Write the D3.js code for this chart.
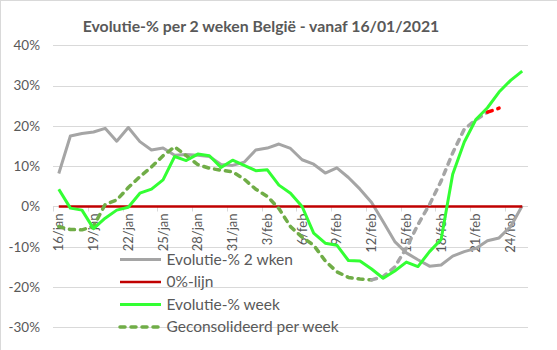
<!DOCTYPE html>
<html>
<head>
<meta charset="utf-8">
<script src="https://cdn.jsdelivr.net/npm/d3@7"></script>
<style>
  html, body { margin: 0; padding: 0; background: #fff; }
  svg { display: block; font-family: Lato, "Open Sans", sans-serif; }
</style>
</head>
<body>
<svg id="chart" width="557" height="350"></svg>
<script>
// Daily categories
const days = [
  "16/jan","17/jan","18/jan","19/jan","20/jan","21/jan","22/jan","23/jan","24/jan","25/jan",
  "26/jan","27/jan","28/jan","29/jan","30/jan","31/jan","1/feb","2/feb","3/feb","4/feb",
  "5/feb","6/feb","7/feb","8/feb","9/feb","10/feb","11/feb","12/feb","13/feb","14/feb",
  "15/feb","16/feb","17/feb","18/feb","19/feb","20/feb","21/feb","22/feb","23/feb","24/feb","25/feb"
];

// Evolutie-% 2 wken (percent)
const twoWeeks = [
  8.2, 17.5, 18.1, 18.5, 19.4, 16.2, 19.6, 16.1, 14.0, 14.5,
  12.7, 12.9, 12.7, 12.4, 10.4, 10.2, 11.0, 14.0, 14.5, 15.5,
  14.4, 11.6, 10.5, 8.3, 9.6, 7.2, 4.3, 1.0, -3.8, -8.7,
  -11.5, -13.2, -14.8, -14.5, -12.3, -11.2, -10.4, -8.5, -7.8, -5.0, 0.2
];

// Evolutie-% week (percent)
const weekly = [
  4.3, -0.4, -0.9, -5.5, -2.9, -0.9, -0.2, 3.3, 4.3, 6.6,
  12.4, 11.4, 13.0, 12.6, 9.7, 11.5, 10.2, 8.9, 9.1, 5.3,
  3.3, 0.0, -6.6, -9.1, -9.6, -13.4, -13.5, -15.5, -17.8, -16.0,
  -13.8, -14.9, -11.2, -8.2, 8.0, 16.0, 21.6, 24.5, 28.4, 31.3, 33.6
];

// Geconsolideerd per week (percent); no value yet for the last two days
const consolidated = [
  -5.0, -5.7, -5.8, -4.9, 0.5, 1.6, 4.7, 7.4, 9.8, 12.6,
  14.8, 12.6, 10.4, 9.5, 9.0, 8.6, 6.8, 4.3, 2.5, -0.5,
  -5.0, -7.6, -9.6, -13.5, -16.2, -17.6, -18.0, -18.2, -17.4, -15.0,
  -10.3, -4.5, 0.5, 6.3, 13.3, 19.2, 21.5, 23.4, 24.4, null, null
];

// 0%-lijn
const zeroLine = days.map(() => 0);

// Y axis ticks (percent)
const yTicks = [40, 30, 20, 10, 0, -10, -20, -30];

// Legend entries
const legendLabels = ["Evolutie-% 2 wken", "0%-lijn", "Evolutie-% week", "Geconsolideerd per week"];

// ---- styling ----
const C = {
  grey: "#a5a5a5",
  darkRed: "#c00000",
  green: "#33ff33",
  olive: "#70ad47",
  red: "#ff0000",
  grid: "#d9d9d9",
  text: "#595959"
};
// colour runs along the consolidated line (index ranges, inclusive)
const consolidatedRuns = [
  { from: 0, to: 27, color: C.olive },
  { from: 27, to: 37, color: C.grey },
  { from: 37, to: 38, color: C.red }
];
const dash = "5,6";

const svg = d3.select("#chart");
const plot = { left: 53, right: 528, top: 45.3, bottom: 327.4 };

const x = d3.scalePoint().domain(days).range([plot.left, plot.right]).padding(0.5);
const y = d3.scaleLinear().domain([-30, 40]).range([plot.bottom, plot.top]);

// chart area border
svg.append("rect")
  .attr("x", 0.5).attr("y", 0.5).attr("width", 620).attr("height", 420)
  .attr("fill", "#fff").attr("stroke", C.grid);

// title
svg.append("text")
  .attr("x", 261).attr("y", 25)
  .attr("text-anchor", "middle").attr("dominant-baseline", "central")
  .attr("font-weight", "bold").attr("font-size", 15.8).attr("fill", C.text)
  .text("Evolutie-% per 2 weken België - vanaf 16/01/2021");

// horizontal gridlines
svg.append("g").selectAll("line")
  .data(yTicks.filter(v => v !== 0))
  .join("line")
  .attr("x1", plot.left).attr("x2", plot.right)
  .attr("y1", d => Math.round(y(d)) + 0.5).attr("y2", d => Math.round(y(d)) + 0.5)
  .attr("stroke", C.grid).attr("stroke-width", 1);

// y axis labels
const yAxis = svg.append("g")
  .attr("transform", `translate(${plot.left},0)`)
  .call(d3.axisLeft(y).tickValues(yTicks).tickSize(0).tickPadding(13).tickFormat(d => d + "%"));
yAxis.select(".domain").remove();
yAxis.selectAll("text").attr("fill", C.text).attr("font-size", 13.5)
  .attr("font-family", "Lato, sans-serif");

// category axis at 0%
const step = x.step();
const y0 = Math.round(y(0)) + 0.5;
const xAxis = svg.append("g");
xAxis.append("line")
  .attr("x1", plot.left).attr("x2", plot.right)
  .attr("y1", y0).attr("y2", y0)
  .attr("stroke", C.grid);
const tickIdx = d3.range(0, days.length, 3);
xAxis.selectAll("line.tick")
  .data(tickIdx)
  .join("line")
  .attr("class", "tick")
  .attr("x1", i => Math.round(x(days[i]) - step / 2) + 0.5)
  .attr("x2", i => Math.round(x(days[i]) - step / 2) + 0.5)
  .attr("y1", y0).attr("y2", y0 + 5)
  .attr("stroke", C.grid);
xAxis.selectAll("text")
  .data(tickIdx)
  .join("text")
  .attr("transform", i => `translate(${x(days[i])},${y0 + 7}) rotate(-90)`)
  .attr("text-anchor", "end").attr("dy", "0.35em")
  .attr("font-size", 13).attr("fill", C.text)
  .text(i => days[i]);

const line = d3.line()
  .defined(d => d.v !== null)
  .x(d => x(d.day)).y(d => y(d.v));
const pts = arr => arr.map((v, i) => ({ day: days[i], v }));

const series = svg.append("g").attr("fill", "none")
  .attr("stroke-linejoin", "round");

// Evolutie-% 2 wken
series.append("path")
  .attr("d", line(pts(twoWeeks)))
  .attr("stroke", C.grey).attr("stroke-width", 3);

// 0%-lijn
series.append("path")
  .attr("d", line(pts(zeroLine)))
  .attr("stroke", C.darkRed).attr("stroke-width", 2.5);

// Geconsolideerd per week
const cPts = pts(consolidated);
consolidatedRuns.forEach(r => {
  series.append("path")
    .attr("d", line(cPts.slice(r.from, r.to + 1)))
    .attr("stroke", r.color).attr("stroke-width", 3.5)
    .attr("stroke-dasharray", dash).attr("stroke-linecap", "round");
});

// Evolutie-% week
series.append("path")
  .attr("d", line(pts(weekly)))
  .attr("stroke", C.green).attr("stroke-width", 3);

// legend
const legendStyles = [
  { color: C.grey, width: 3, dash: null },
  { color: C.darkRed, width: 2.5, dash: null },
  { color: C.green, width: 3, dash: null },
  { color: C.olive, width: 3.5, dash: dash }
];
const legend = svg.append("g");
const rowY = [259.5, 282, 304.5, 327];
legendLabels.forEach((label, i) => {
  const s = legendStyles[i];
  legend.append("line")
    .attr("x1", 120).attr("x2", 161)
    .attr("y1", rowY[i]).attr("y2", rowY[i])
    .attr("stroke", s.color).attr("stroke-width", s.width)
    .attr("stroke-dasharray", s.dash)
    .attr("stroke-linecap", s.dash ? "round" : "butt");
  legend.append("text")
    .attr("x", 166.5).attr("y", rowY[i]).attr("dy", "0.35em")
    .attr("font-size", 15.5).attr("fill", C.text)
    .text(label);
});
</script>
</body>
</html>
